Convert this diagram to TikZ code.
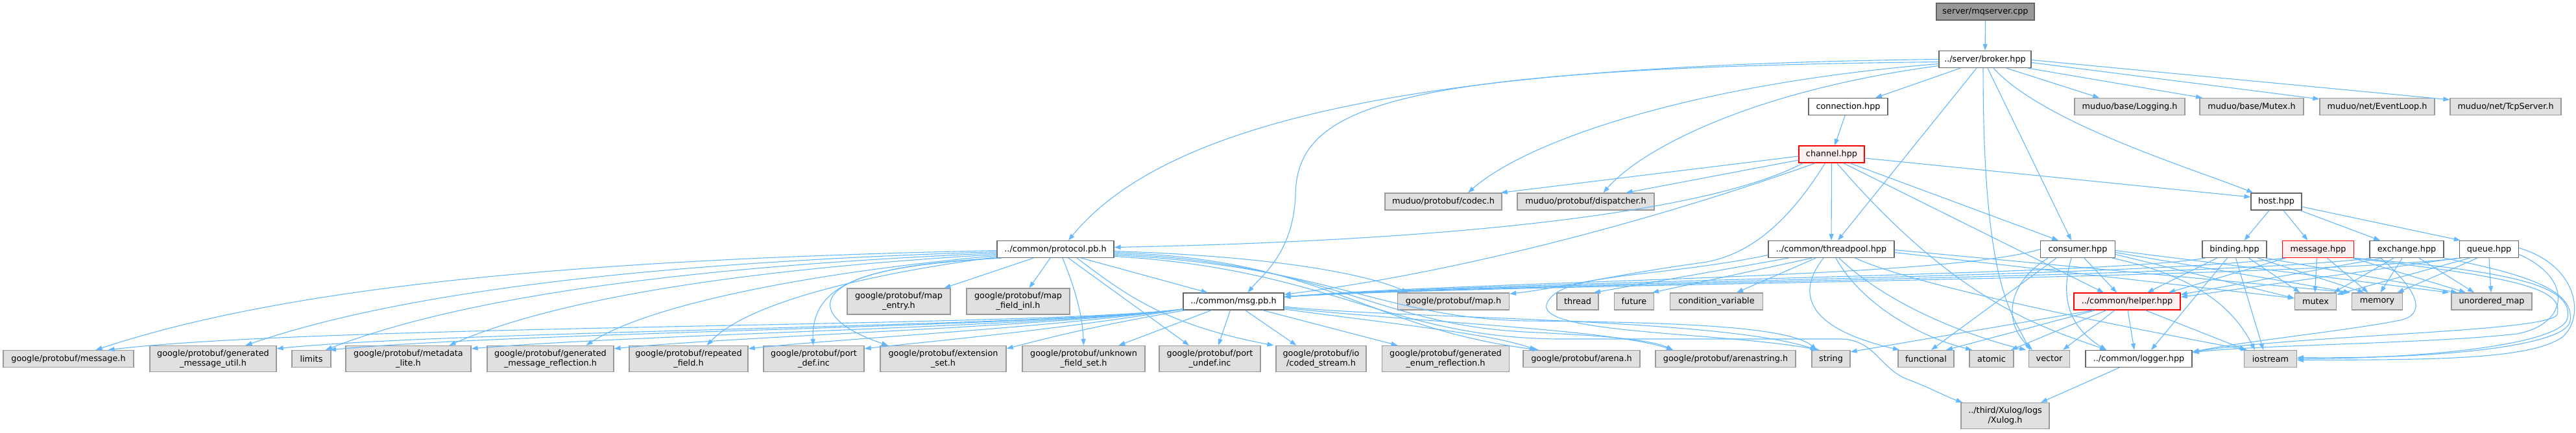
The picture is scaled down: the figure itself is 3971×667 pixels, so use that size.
\documentclass[tikz,border=0pt]{standalone}
\usepackage{fontspec}
\newfontfamily\dvs{DejaVu Sans}
\usetikzlibrary{arrows.meta}
\definecolor{edgec}{HTML}{63B8FF}
\definecolor{extfill}{HTML}{E0E0E0}
\definecolor{extdraw}{HTML}{999999}
\definecolor{locdraw}{HTML}{666666}
\definecolor{hotfill}{HTML}{FFF0F0}
\definecolor{hotdraw}{HTML}{FF0000}
\definecolor{rootfill}{HTML}{999999}
\tikzset{
  nbox/.style={line width=1.3pt, font=\dvs\fontsize{12.8pt}{15pt}\selectfont, inner sep=0pt, minimum height=26pt, align=center, anchor=center},
  extbox/.style={nbox, fill=extfill, draw=extdraw},
  locbox/.style={nbox, fill=white, draw=locdraw},
  hotbox/.style={nbox, fill=hotfill, draw=hotdraw},
  rootbox/.style={nbox, fill=rootfill, draw=locdraw},
  twoline/.style={minimum height=40pt},
  depedge/.style={draw=edgec, line width=1.1pt, -{Triangle[length=10pt,width=7pt]}},
}
\begin{document}
\begin{tikzpicture}[x=1pt,y=1pt]
\useasboundingbox (0,0) rectangle (3971,-667);
% ---------- nodes ----------
\node[rootbox, minimum width=151pt] (mq) at (3060.5,-18) {server/mqserver.cpp};
\node[locbox, minimum width=142pt] (broker) at (3060,-91.5) {../server/broker.hpp};
\node[locbox, minimum width=122pt] (conn) at (2849,-164.5) {connection.hpp};
\node[extbox, minimum width=170pt] (logging) at (3283,-164.5) {muduo/base/Logging.h};
\node[extbox, minimum width=160pt] (mutexh) at (3471,-164.5) {muduo/base/Mutex.h};
\node[extbox, minimum width=177pt] (evloop) at (3664.5,-164.5) {muduo/net/EventLoop.h};
\node[extbox, minimum width=171pt] (tcpserver) at (3862.5,-164.5) {muduo/net/TcpServer.h};
\node[hotbox, minimum width=101pt] (channel) at (2823.5,-238) {channel.hpp};
\node[extbox, minimum width=180pt] (codec) at (2225,-311) {muduo/protobuf/codec.h};
\node[extbox, minimum width=211pt] (disp) at (2444.5,-311) {muduo/protobuf/dispatcher.h};
\node[locbox, minimum width=78pt] (host) at (3509,-311) {host.hpp};
\node[locbox, minimum width=180pt] (proto) at (1627,-384.5) {../common/protocol.pb.h};
\node[locbox, minimum width=194pt] (tpool) at (2823,-384.5) {../common/threadpool.hpp};
\node[locbox, minimum width=115pt] (consumer) at (3203,-384.5) {consumer.hpp};
\node[locbox, minimum width=99pt] (binding) at (3444.5,-384.5) {binding.hpp};
\node[hotbox, minimum width=110pt] (messagehpp) at (3573.5,-384.5) {message.hpp};
\node[locbox, minimum width=114pt] (exchange) at (3710,-384.5) {exchange.hpp};
\node[locbox, minimum width=91pt] (queue) at (3837,-384.5) {queue.hpp};
\node[extbox, twoline, minimum width=159pt] (mapentry) at (1385.5,-465) {google/protobuf/map\\\_entry.h};
\node[extbox, twoline, minimum width=159pt] (mapfield) at (1569.5,-465) {google/protobuf/map\\\_field\_inl.h};
\node[locbox, minimum width=155pt] (msg) at (1901.5,-465) {../common/msg.pb.h};
\node[extbox, minimum width=172pt] (maph) at (2240.5,-465) {google/protobuf/map.h};
\node[extbox, minimum width=64pt] (thread) at (2432,-465) {thread};
\node[extbox, minimum width=61pt] (future) at (2519,-465) {future};
\node[extbox, minimum width=143pt] (condvar) at (2646,-465) {condition\_variable};
\node[hotbox, minimum width=164pt] (helper) at (3279,-465) {../common/helper.hpp};
\node[extbox, minimum width=64pt] (mutex) at (3569.5,-465) {mutex};
\node[extbox, minimum width=78pt] (memory) at (3664.5,-465) {memory};
\node[extbox, minimum width=124pt] (umap) at (3841,-465) {unordered\_map};
\node[extbox, minimum width=201pt] (messageh) at (105.5,-553.5) {google/protobuf/message.h};
\node[extbox, twoline, minimum width=195pt] (genutil) at (328.5,-553.5) {google/protobuf/generated\\\_message\_util.h};
\node[extbox, minimum width=60pt] (limits) at (480,-553.5) {limits};
\node[extbox, twoline, minimum width=193pt] (metadata) at (629.5,-553.5) {google/protobuf/metadata\\\_lite.h};
\node[extbox, twoline, minimum width=195pt] (genrefl) at (848.5,-553.5) {google/protobuf/generated\\\_message\_reflection.h};
\node[extbox, twoline, minimum width=183pt] (repeated) at (1061.5,-553.5) {google/protobuf/repeated\\\_field.h};
\node[extbox, twoline, minimum width=155pt] (portdef) at (1254.5,-553.5) {google/protobuf/port\\\_def.inc};
\node[extbox, twoline, minimum width=194pt] (extset) at (1454,-553.5) {google/protobuf/extension\\\_set.h};
\node[extbox, twoline, minimum width=189pt] (unknown) at (1670.5,-553.5) {google/protobuf/unknown\\\_field\_set.h};
\node[extbox, twoline, minimum width=156pt] (portundef) at (1865,-553.5) {google/protobuf/port\\\_undef.inc};
\node[extbox, twoline, minimum width=139pt] (coded) at (2036.5,-553.5) {google/protobuf/io\\/coded\_stream.h};
\node[extbox, twoline, minimum width=196pt] (genenum) at (2228.5,-553.5) {google/protobuf/generated\\\_enum\_reflection.h};
\node[extbox, minimum width=180pt] (arena) at (2438,-553.5) {google/protobuf/arena.h};
\node[extbox, minimum width=216pt] (arenastr) at (2660,-553.5) {google/protobuf/arenastring.h};
\node[extbox, minimum width=59pt] (string) at (2822.5,-553.5) {string};
\node[extbox, minimum width=86pt] (functional) at (2969,-553.5) {functional};
\node[extbox, minimum width=68pt] (atomic) at (3070,-553.5) {atomic};
\node[extbox, minimum width=63pt] (vector) at (3159,-553.5) {vector};
\node[locbox, minimum width=164pt] (logger) at (3297,-553.5) {../common/logger.hpp};
\node[extbox, minimum width=81pt] (iostream) at (3500,-553.5) {iostream};
\node[extbox, twoline, minimum width=136pt] (xulog) at (3091,-641.5) {../third/Xulog/logs\\/Xulog.h};
% ---------- edges ----------
\draw[depedge] (mq) -- (broker);
% broker
\draw[depedge] ([xshift=-38pt]broker.south) -- ([xshift=42pt]conn.north);
\draw[depedge] ([xshift=33pt]broker.south) -- ([xshift=-47pt]logging.north);
\draw[depedge] ([xshift=66pt]broker.south) -- ([xshift=-76pt]mutexh.north);
\draw[depedge] ([yshift=-5pt]broker.east) -- ([yshift=-2pt]evloop.north west);
\draw[depedge] ([yshift=-1pt]broker.east) -- ([yshift=-3pt]tcpserver.north west);
\draw[depedge] ([xshift=13pt]broker.south) .. controls (3150,-190) and (3380,-260) .. ([xshift=4pt]host.north west);
\draw[depedge] ([xshift=4pt]broker.south) -- ([xshift=-10pt]consumer.north);
\draw[depedge] ([xshift=-13pt]broker.south) -- ([xshift=10pt]tpool.north);
\draw[depedge] ([xshift=-3pt]broker.south) .. controls (3057,-440) and (3100,-480) .. ([xshift=-30pt]vector.north);
\draw[depedge] ([yshift=-7pt]broker.west) .. controls (2600,-130) and (2350,-220) .. ([xshift=38pt]codec.north);
\draw[depedge] ([yshift=-10pt]broker.west) .. controls (2700,-140) and (2530,-230) .. ([xshift=27pt]disp.north);
\draw[depedge] (broker.west) .. controls (2300,-100) and (1820,-160) .. ([xshift=20pt]proto.north);
\draw[depedge] ([yshift=-4pt]broker.west) .. controls (2150,-105) and (2000,-160) .. (1997,-300) .. controls (1994,-390) and (1945,-425) .. ([xshift=22pt]msg.north);
% connection
\draw[depedge] (conn) -- (channel);
% channel
\draw[depedge] ([yshift=-3pt]channel.west) -- ([xshift=-2pt]codec.north east);
\draw[depedge] ([yshift=-9pt]channel.west) -- ([xshift=62pt]disp.north);
\draw[depedge] ([xshift=-44pt]channel.south) .. controls (2650,-320) and (2300,-370) .. ([yshift=3pt]proto.east);
\draw[depedge] ([xshift=-25pt]channel.south) .. controls (2550,-340) and (2250,-420) .. ([yshift=-3pt]msg.north east);
\draw[depedge] ([xshift=-10pt]channel.south) .. controls (2765,-330) and (2705,-393) .. (2625,-405) .. controls (2500,-422) and (2400,-445) .. ([yshift=-2pt]maph.north east);
\draw[depedge] (channel) -- (tpool);
\draw[depedge] ([yshift=-6pt]channel.east) -- ([yshift=7pt]host.west);
\draw[depedge] ([xshift=28pt]channel.south) -- ([xshift=-30pt]consumer.north);
\draw[depedge] ([xshift=18pt]channel.south) -- ([xshift=-36pt]helper.north);
\draw[depedge] ([xshift=8pt]channel.south) .. controls (3020,-470) and (3150,-505) .. ([xshift=-50pt]logger.north);
% host
\draw[depedge] ([xshift=-11pt]host.south) -- ([xshift=15pt]binding.north);
\draw[depedge] ([xshift=11pt]host.south) -- ([xshift=-16pt]messagehpp.north);
\draw[depedge] ([xshift=-3pt]host.south east) -- ([xshift=-41pt]exchange.north);
\draw[depedge] ([yshift=-8pt]host.east) -- ([xshift=2pt]queue.north west);
% protocol.pb.h
\draw[depedge] ([yshift=-2pt]proto.west) .. controls (900,-400) and (450,-440) .. ([xshift=42pt]messageh.north);
\draw[depedge] ([yshift=-4pt]proto.west) .. controls (1000,-405) and (620,-450) .. ([xshift=50pt]genutil.north);
\draw[depedge] ([yshift=-6pt]proto.west) .. controls (1080,-410) and (720,-455) .. ([xshift=22pt]limits.north);
\draw[depedge] ([yshift=-8pt]proto.west) .. controls (1150,-415) and (860,-460) .. ([xshift=63pt]metadata.north);
\draw[depedge] ([yshift=-10pt]proto.west) .. controls (1250,-420) and (1000,-470) .. ([xshift=55pt]genrefl.north);
\draw[depedge] ([yshift=-12pt]proto.west) .. controls (1320,-425) and (1150,-470) .. ([xshift=28pt]repeated.north);
\draw[depedge] ([xshift=5pt]proto.south west) .. controls (1350,-410) and (1250,-430) .. ([xshift=-1pt]portdef.north);
\draw[depedge] ([xshift=8pt]proto.south west) .. controls (1220,-412) and (1240,-490) .. ([xshift=-85pt]extset.north);
\draw[depedge] ([xshift=11pt]proto.south) .. controls (1655,-440) and (1668,-480) .. (unknown.north);
\draw[depedge] ([xshift=20pt]proto.south) -- ([xshift=-32pt]portundef.north);
\draw[depedge] ([xshift=33pt]proto.south) .. controls (1730,-450) and (1790,-500) .. ([xshift=-3pt]coded.north west);
\draw[depedge] ([xshift=-34pt]proto.south) -- ([xshift=70pt]mapentry.north);
\draw[depedge] ([xshift=-8pt]proto.south) -- ([xshift=17pt]mapfield.north);
\draw[depedge] ([xshift=40pt]proto.south) -- ([xshift=-40pt]msg.north);
\draw[depedge] ([yshift=-3pt]proto.east) .. controls (1950,-395) and (2100,-420) .. ([xshift=-70pt]maph.north);
\draw[depedge] ([yshift=-5pt]proto.east) .. controls (2050,-400) and (2100,-505) .. ([xshift=-66pt]arena.north);
\draw[depedge] ([yshift=-7pt]proto.east) .. controls (2050,-405) and (2120,-500) .. (2350,-512) .. controls (2450,-517) and (2540,-522) .. ([xshift=-81pt]arenastr.north);
\draw[depedge] ([yshift=-9pt]proto.east) .. controls (2050,-410) and (2130,-490) .. (2350,-495) .. controls (2600,-497) and (2760,-505) .. ([xshift=-22pt]string.north);
\draw[depedge] ([yshift=-11pt]proto.east) .. controls (2050,-415) and (2140,-520) .. (2400,-523) -- (2840,-523) .. controls (2890,-525) and (2900,-570) .. (2940,-585) .. controls (2975,-598) and (3000,-612) .. ([xshift=3pt]xulog.north west);
% msg.pb.h
\draw[depedge] ([yshift=-12pt]msg.west) .. controls (1600,-505) and (500,-500) .. ([xshift=61pt]messageh.north);
\draw[depedge] ([yshift=-12pt]msg.west) .. controls (1600,-505) and (700,-510) .. ([yshift=-5pt]genutil.north east);
\draw[depedge] ([yshift=-12pt]msg.west) .. controls (1600,-505) and (800,-512) .. ([xshift=28pt]limits.north);
\draw[depedge] ([yshift=-12pt]msg.west) .. controls (1600,-505) and (1000,-515) .. ([yshift=-5pt]metadata.north east);
\draw[depedge] ([yshift=-12pt]msg.west) .. controls (1600,-505) and (1150,-518) .. ([yshift=-5pt]genrefl.north east);
\draw[depedge] ([yshift=-12pt]msg.west) .. controls (1600,-507) and (1300,-522) .. ([yshift=-5pt]repeated.north east);
\draw[depedge] ([yshift=-12pt]msg.west) .. controls (1620,-510) and (1450,-525) .. ([yshift=-5pt]portdef.north east);
\draw[depedge] ([xshift=4pt]msg.south west) .. controls (1700,-500) and (1620,-520) .. ([yshift=-5pt]extset.north east);
\draw[depedge] ([xshift=-34pt]msg.south) -- ([xshift=54pt]unknown.north);
\draw[depedge] ([xshift=-5pt]msg.south) -- ([xshift=13pt]portundef.north);
\draw[depedge] ([xshift=18pt]msg.south) -- ([xshift=-38pt]coded.north);
\draw[depedge] ([xshift=45pt]msg.south) -- ([xshift=-74pt]genenum.north);
\draw[depedge] ([yshift=-12pt]msg.east) .. controls (2150,-500) and (2300,-515) .. ([xshift=-70pt]arena.north);
\draw[depedge] ([yshift=-10pt]msg.east) .. controls (2200,-498) and (2480,-508) .. ([xshift=-81pt]arenastr.north);
\draw[depedge] ([yshift=-8pt]msg.east) .. controls (2150,-492) and (2650,-490) .. ([xshift=-22pt]string.north);
% threadpool
\draw[depedge] ([xshift=-66pt]tpool.south) -- ([xshift=25pt]thread.north);
\draw[depedge] ([xshift=-30pt]tpool.south) -- ([xshift=28pt]future.north);
\draw[depedge] ([xshift=-24pt]tpool.south) -- ([xshift=31pt]condvar.north);
\draw[depedge] ([yshift=-9pt]tpool.west) .. controls (2550,-430) and (2400,-420) .. (2384,-470) .. controls (2372,-515) and (2650,-512) .. ([xshift=-18pt]string.north);
\draw[depedge] ([xshift=-12pt]tpool.south) .. controls (2770,-450) and (2780,-505) .. ([xshift=-41pt]functional.north);
\draw[depedge] ([xshift=7pt]tpool.south) .. controls (2870,-470) and (2960,-520) .. ([xshift=-30pt]atomic.north);
\draw[depedge] ([xshift=12pt]tpool.south) .. controls (2920,-480) and (3060,-525) .. ([xshift=-36pt]vector.north);
\draw[depedge] ([xshift=37pt]tpool.south) .. controls (2950,-440) and (3250,-500) .. ([xshift=-36pt]iostream.north);
\draw[depedge] ([yshift=-5pt]tpool.east) -- ([yshift=5pt]mutex.west);
\draw[depedge] ([yshift=-1pt]tpool.east) -- ([xshift=-2pt]memory.north west);
% consumer
\draw[depedge] (consumer.west) .. controls (3000,-430) and (2300,-432) .. ([yshift=7pt]msg.east);
\draw[depedge] ([xshift=10pt]consumer.south) -- ([xshift=-16pt]helper.north);
\draw[depedge] ([xshift=-33pt]consumer.south) -- ([xshift=8pt]functional.north);
\draw[depedge] ([xshift=-46pt]consumer.south) .. controls (3090,-440) and (3090,-500) .. ([xshift=-26pt]vector.north);
\draw[depedge] ([xshift=-10pt]consumer.south) .. controls (3175,-460) and (3190,-505) .. ([xshift=-50pt]logger.north);
\draw[depedge] ([xshift=-5pt]consumer.south east) .. controls (3380,-425) and (3440,-470) .. ([xshift=-24pt]iostream.north);
\draw[depedge] ([yshift=-8pt]consumer.east) -- ([yshift=5pt]mutex.west);
\draw[depedge] ([yshift=-5pt]consumer.east) -- ([xshift=-2pt]memory.north west);
\draw[depedge] ([yshift=-2pt]consumer.east) -- ([xshift=-3pt]umap.north west);
% binding
\draw[depedge] ([xshift=5pt]binding.south west) .. controls (3250,-425) and (2300,-434) .. ([yshift=7pt]msg.east);
\draw[depedge] ([xshift=-27pt]binding.south) -- ([xshift=31pt]helper.north);
\draw[depedge] ([xshift=-11pt]binding.south) -- ([xshift=19pt]logger.north);
\draw[depedge] ([xshift=2pt]binding.south) -- ([xshift=-11pt]iostream.north);
\draw[depedge] ([xshift=22pt]binding.south) -- ([xshift=-24pt]mutex.north);
\draw[depedge] ([xshift=36pt]binding.south) -- ([xshift=-20pt]memory.north);
\draw[depedge] ([xshift=-2pt]binding.south east) -- ([xshift=-53pt]umap.north);
% message.hpp
\draw[depedge] ([xshift=3pt]messagehpp.south west) .. controls (3300,-428) and (2300,-436) .. ([yshift=7pt]msg.east);
\draw[depedge] ([xshift=-50pt]messagehpp.south) -- ([xshift=64pt]helper.north);
\draw[depedge] ([xshift=-2pt]messagehpp.south) -- ([xshift=-1pt]mutex.north);
\draw[depedge] ([xshift=14pt]messagehpp.south) -- ([xshift=-14pt]memory.north);
\draw[depedge] ([xshift=-2pt]messagehpp.south east) -- ([xshift=-40pt]umap.north);
\draw[depedge] ([xshift=-2pt]messagehpp.south east) .. controls (3880,-428) and (3952,-445) .. (3942,-485) .. controls (3932,-512) and (3560,-516) .. ([yshift=-3pt]logger.north east);
\draw[depedge] (messagehpp.south east) .. controls (3895,-420) and (3965,-445) .. (3958,-490) .. controls (3952,-530) and (3750,-553) .. (iostream.east);
% exchange
\draw[depedge] ([xshift=3pt]exchange.south west) .. controls (3400,-430) and (2300,-437) .. ([yshift=7pt]msg.east);
\draw[depedge] ([xshift=-38pt]exchange.south) -- ([yshift=-3pt]helper.north east);
\draw[depedge] ([xshift=-20pt]exchange.south) -- ([xshift=28pt]mutex.north);
\draw[depedge] ([xshift=-7pt]exchange.south) -- ([xshift=5pt]memory.north);
\draw[depedge] ([xshift=19pt]exchange.south) -- ([xshift=-27pt]umap.north);
\draw[depedge] ([xshift=-40pt]exchange.south) .. controls (3730,-450) and (3740,-485) .. (3700,-494) .. controls (3620,-510) and (3470,-525) .. ([yshift=-3pt]logger.north east);
\draw[depedge] (exchange.south east) .. controls (3905,-425) and (3968,-450) .. (3962,-495) .. controls (3956,-535) and (3750,-554) .. ([yshift=2pt]iostream.east);
% queue
\draw[depedge] ([xshift=3pt]queue.south west) .. controls (3500,-432) and (2300,-438) .. ([yshift=7pt]msg.east);
\draw[depedge] ([xshift=-2pt]queue.south west) -- ([yshift=-7pt]helper.north east);
\draw[depedge] ([xshift=-30pt]queue.south) -- ([yshift=-3pt]mutex.north east);
\draw[depedge] ([xshift=-18pt]queue.south) -- ([xshift=31pt]memory.north);
\draw[depedge] (queue.south) -- ([xshift=-1pt]umap.north);
\draw[depedge] ([yshift=-8pt]queue.east) .. controls (3968,-430) and (3960,-500) .. (3880,-515) .. controls (3750,-530) and (3480,-532) .. ([yshift=-4pt]logger.north east);
\draw[depedge] ([yshift=2pt]queue.east) .. controls (3975,-410) and (3985,-490) .. (3950,-520) .. controls (3900,-555) and (3750,-555) .. ([yshift=-2pt]iostream.east);
% helper
\draw[depedge] ([xshift=-52pt]helper.south) -- ([yshift=-3pt]string.north east);
\draw[depedge] ([xshift=-49pt]helper.south) -- ([xshift=31pt]functional.north);
\draw[depedge] ([xshift=-32pt]helper.south) -- ([xshift=30pt]atomic.north);
\draw[depedge] ([xshift=-19pt]helper.south) -- ([xshift=21pt]vector.north);
\draw[depedge] ([xshift=1pt]helper.south) -- ([xshift=-7pt]logger.north);
\draw[depedge] ([xshift=28pt]helper.south) -- ([xshift=-38pt]iostream.north);
% logger
\draw[depedge] ([xshift=-30pt]logger.south) -- ([xshift=55pt]xulog.north);
\end{tikzpicture}
\end{document}
